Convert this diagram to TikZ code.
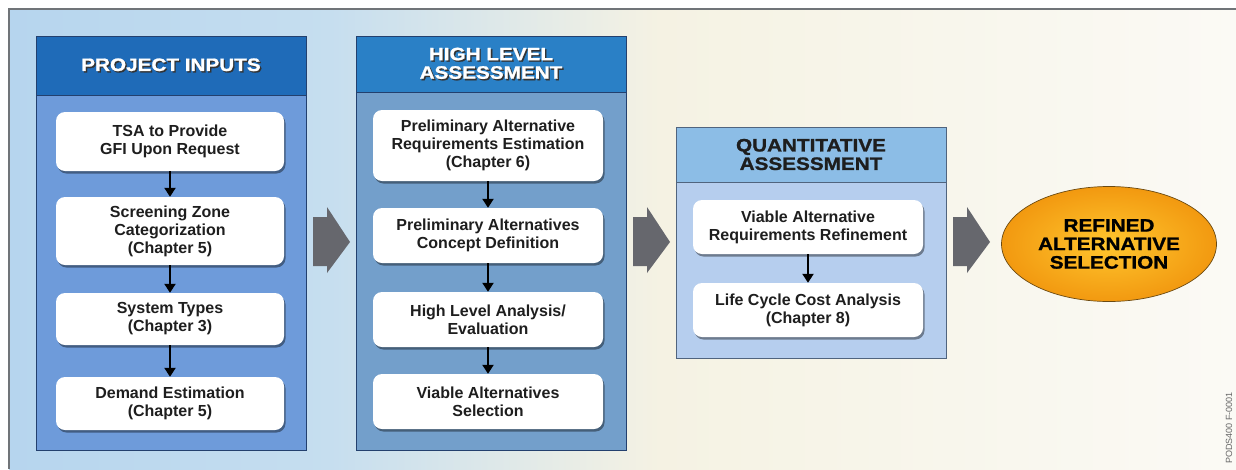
\documentclass[tikz,border=0pt]{standalone}
\usepackage{fontspec}
\setmainfont{Liberation Sans}
\newfontfamily\headfont[FakeStretch=1.15,FakeBold=1.2]{Liberation Sans}
\usetikzlibrary{shapes.geometric,shadows,arrows.meta}

\definecolor{bgleft}{HTML}{B6D5EE}
\definecolor{bgblue}{HTML}{C6DEEF}
\definecolor{bgmid}{HTML}{F5F2E3}
\definecolor{bgright}{HTML}{FBFAF5}
\definecolor{framegray}{HTML}{707478}
\definecolor{navyline}{HTML}{23406E}
\definecolor{headone}{HTML}{1F6BB8}
\definecolor{bodyone}{HTML}{6E9BDA}
\definecolor{headtwo}{HTML}{2A80C6}
\definecolor{bodytwo}{HTML}{739FCB}
\definecolor{headthree}{HTML}{8CBDE6}
\definecolor{bodythree}{HTML}{B6CEEE}
\definecolor{linethree}{HTML}{50647E}
\definecolor{arrowgray}{HTML}{66676D}
\definecolor{textgray}{HTML}{1E1E1E}
\definecolor{orangein}{HTML}{FFC62E}
\definecolor{orangeout}{HTML}{F29910}
\definecolor{ovalline}{HTML}{6B4A12}

% white header text with a dark offset shadow
\newcommand{\shtext}[1]{\makebox[0pt][l]{\color{black!80}\hspace{1.4pt}\raisebox{-1.4pt}{#1}}#1}

\tikzset{
  panelhead/.style={draw=navyline, line width=0.8pt, minimum width=270pt, align=center,
    font=\headfont\bfseries\fontsize{18}{18.5}\selectfont, text=white},
  panelbody/.style={draw=navyline, line width=0.8pt, minimum width=270pt},
  stepbox/.style={fill=white, rounded corners=9pt, minimum width=228pt, align=center,
    font=\bfseries\fontsize{16}{18}\selectfont, text=textgray,
    drop shadow={shadow xshift=1.5pt, shadow yshift=-2.5pt, opacity=0.4, fill=black}},
  flow/.style={line width=2.6pt, -{Triangle[width=11pt,length=9pt]}},
  bigarrow/.style={fill=arrowgray},
}

\begin{document}
\begin{tikzpicture}[x=1pt, y=-1pt]
\useasboundingbox (0,0) rectangle (1236,469);

%background and frame
\shade[left color=bgleft, right color=bgblue] (9,9) rectangle (330,469);
\shade[left color=bgblue, right color=bgmid] (330,9) rectangle (660,469);
\shade[left color=bgmid, right color=bgright] (660,9) rectangle (1236,469);
\draw[framegray, line width=1.2pt] (9,469) -- (9,9) -- (1236,9);

%Project inputs panel
\node[panelbody, fill=bodyone, minimum height=355pt] (body1) at (171,272.5) {};
\node[panelhead, fill=headone, minimum height=59pt] (head1) at (171,65.5) {\shtext{PROJECT INPUTS}};

\node[stepbox, minimum height=59pt] (in1) at (170,141.5) {TSA to Provide\\GFI Upon Request};
\node[stepbox, minimum height=68pt] (in2) at (170,231) {Screening Zone\\Categorization\\(Chapter 5)};
\node[stepbox, minimum height=52pt] (in3) at (170,319) {System Types\\(Chapter 3)};
\node[stepbox, minimum height=53pt] (in4) at (170,403.5) {Demand Estimation\\(Chapter 5)};

\draw[flow] (in1) -- (in2);
\draw[flow] (in2) -- (in3);
\draw[flow] (in3) -- (in4);

%High level panel
\node[panelbody, fill=bodytwo, minimum height=358pt] (body2) at (491,271) {};
\node[panelhead, fill=headtwo, minimum height=56pt] (head2) at (491,64) {\shtext{HIGH LEVEL}\\\shtext{ASSESSMENT}};

\node[stepbox, minimum width=230pt, minimum height=71pt] (hl1) at (488,145.5) {Preliminary Alternative\\Requirements Estimation\\(Chapter 6)};
\node[stepbox, minimum width=230pt, minimum height=55pt] (hl2) at (488,235.5) {Preliminary Alternatives\\Concept Definition};
\node[stepbox, minimum width=230pt, minimum height=55pt] (hl3) at (488,319.5) {High Level Analysis/\\Evaluation};
\node[stepbox, minimum width=230pt, minimum height=55pt] (hl4) at (488,401.5) {Viable Alternatives\\Selection};

\draw[flow] (hl1) -- (hl2);
\draw[flow] (hl2) -- (hl3);
\draw[flow] (hl3) -- (hl4);

%Quantitative panel
\node[panelbody, draw=linethree, fill=bodythree, minimum height=176pt] (body3) at (811,270) {};
\node[panelhead, draw=linethree, fill=headthree, text=textgray, minimum height=55pt] (head3) at (811,154.5) {QUANTITATIVE\\ASSESSMENT};

\node[stepbox, minimum width=230pt, minimum height=54pt] (qa1) at (808,227) {Viable Alternative\\Requirements Refinement};
\node[stepbox, minimum width=230pt, minimum height=54pt] (qa2) at (808,310) {Life Cycle Cost Analysis\\(Chapter 8)};

\draw[flow] (qa1) -- (qa2);

%Result oval
\node[ellipse, draw=ovalline, line width=0.7pt, inner color=orangein, outer color=orangeout,
  minimum width=215pt, minimum height=115pt, align=center, text=black,
  font=\headfont\bfseries\fontsize{18}{18.5}\selectfont] (result) at (1109,244) {REFINED\\ALTERNATIVE\\SELECTION};

%Gray arrows between stages
\foreach \ax in {313,633,953}
  \fill[bigarrow] (\ax,217) -- ++(14,0) -- ++(0,-10) -- ++(23,35) -- ++(-23,31) -- ++(0,-7) -- ++(-14,0) -- cycle;

\node[rotate=90, font=\fontsize{9}{10}\selectfont, text=black!60] (figcode) at (1229,428) {PODS400 F-0001};

\end{tikzpicture}
\end{document}
